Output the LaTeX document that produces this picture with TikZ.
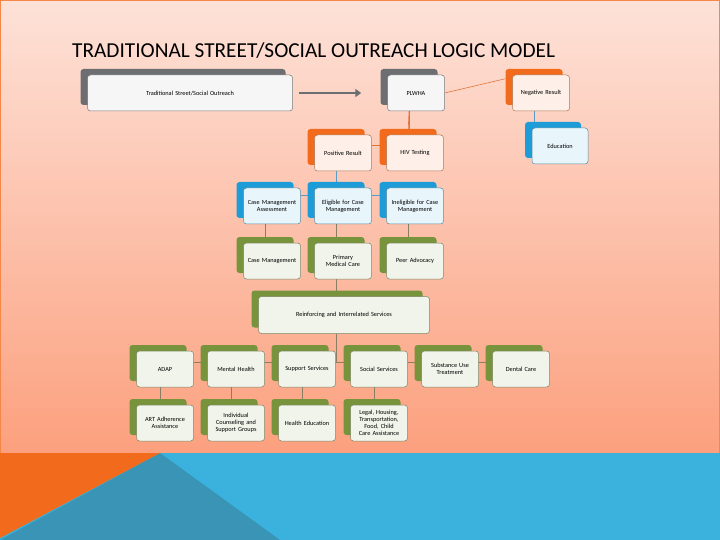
\documentclass[tikz,border=0pt]{standalone}
\usepackage{fontspec}
\setmainfont{Carlito}
\usetikzlibrary{shadows,arrows.meta}
\hyphenpenalty=10000
\exhyphenpenalty=10000
\pgfdeclarelayer{back}\pgfdeclarelayer{bg}\pgfsetlayers{back,bg,main}
\definecolor{bgtop}{HTML}{FDE2D8}
\definecolor{bgbot}{HTML}{FCA07E}
\definecolor{cor}{HTML}{F26A1B}
\definecolor{cbl}{HTML}{1E9CD7}
\definecolor{cgr}{HTML}{77933C}
\definecolor{cgy}{HTML}{6D6E71}
\definecolor{band}{HTML}{3BB2DE}
\definecolor{darktri}{HTML}{3A94B5}
\definecolor{lineor}{HTML}{E0733A}
\definecolor{linebl}{HTML}{5B9BC5}
\definecolor{linegr}{HTML}{8C7E62}
\tikzset{
 box/.style 2 args={draw=#1!40!gray, line width=0.5pt, rounded corners=3pt, fill=#2,
   minimum width=57pt, minimum height=36pt, align=center, text width=54pt,
   font=\fontsize{6.3}{7}\selectfont, inner sep=1pt,
   copy shadow={shadow xshift=-7pt, shadow yshift=6pt, fill=#1, draw=none}},
 obox/.style={box={cor}{white!90!cor}},
 bbox/.style={box={cbl}{white!90!cbl}},
 gbox/.style={box={cgr}{white!90!cgr}},
 ybox/.style={box={cgy}{white!94!cgy}},
 conn/.style={line width=0.6pt}
}
\begin{document}
\begin{tikzpicture}[x=1pt,y=-1pt]
\useasboundingbox (0,0) rectangle (720,540);
\begin{pgfonlayer}{back}
\shade[top color=bgtop, bottom color=bgbot] (0,0) rectangle (720,453);
\draw[cor!80, line width=1pt] (0.5,0.5) rectangle (719.5,453);
\fill[band] (0,453) rectangle (720,540);
\fill[darktri] (160,453) -- (280,540) -- (0,540) -- cycle;
\fill[cor] (0,453) -- (160,453) -- (0,538) -- cycle;
\end{pgfonlayer}
\node[anchor=west, font=\fontsize{21.3}{24}\selectfont, inner sep=0pt] (title) at (72,51) {TRADITIONAL STREET/SOCIAL OUTREACH LOGIC MODEL};

\node[ybox, minimum width=205pt, text width=195pt] (trad) at (190,93) {Traditional Street/Social Outreach};
\node[ybox] (plwha) at (416,93) {PLWHA};
\node[obox] (neg) at (541,93) {Negative Result};
\node[bbox, minimum width=56pt] (edu) at (560,146) {Education};
\node[obox] (pos) at (343,153) {Positive Result};
\node[obox] (hiv) at (415,153) {HIV Testing};

\node[bbox] (cma) at (272,206) {Case Management Assessment};
\node[bbox] (elig) at (343,206) {Eligible for Case Management};
\node[bbox] (inel) at (415,206) {Ineligible for Case Management};
\node[gbox] (cm) at (272,261) {Case Management};
\node[gbox] (pmc) at (343,261) {Primary Medical Care};
\node[gbox] (peer) at (415,261) {Peer Advocacy};
\node[gbox, minimum width=171pt, minimum height=37pt, text width=160pt] (rein) at (344,315) {Reinforcing and Interrelated Services};

\node[gbox] (adap) at (165,369) {ADAP};
\node[gbox] (mh) at (236,369) {Mental Health};
\node[gbox] (ss) at (307,369) {Support Services};
\node[gbox] (soc) at (379,369) {Social Services};
\node[gbox] (sub) at (450,369) {Substance Use Treatment};
\node[gbox] (dent) at (521,369) {Dental Care};
\node[gbox] (art) at (165,423) {ART Adherence Assistance};
\node[gbox] (ind) at (236,423) {Individual Counseling and Support Groups};
\node[gbox] (he) at (307,423) {Health Education};
\node[gbox] (legal) at (379,423) {Legal, Housing, Transportation, Food, Child Care Assistance};

\draw[cgy, line width=2.2pt, -{Triangle[length=6pt,width=8pt]}] (trad.east)+(6,0) coordinate (a1) (a1) -- ([xshift=-26pt]plwha.west);

\begin{pgfonlayer}{bg}
\draw[conn, lineor] (plwha.east) -- ([xshift=-7pt,yshift=-4pt]neg.north west);
\draw[conn, linebl] ([xshift=-7pt]neg.south) -- ([xshift=-7pt]neg.south |- edu.north);
\draw[conn, lineor] ([xshift=-7pt]plwha.south) |- ([xshift=-7pt,yshift=-11pt]pos.north) -- ([xshift=-7pt]pos.north);
\draw[conn, lineor] ([xshift=-7pt]plwha.south) -- ([xshift=-7pt]hiv.north);
\draw[conn, linebl] ([xshift=-7pt]pos.south) -- ([xshift=-7pt,yshift=-8pt]elig.north);
\draw[conn, linebl] ([xshift=-7pt,yshift=-8pt]cma.north) -- ([xshift=-7pt,yshift=-8pt]inel.north);
\foreach \u/\l in {cma/cm,elig/pmc,inel/peer}{
  \draw[conn, linebl] ([xshift=-7pt,yshift=-8pt]\u.north) -- ([xshift=-7pt]\u.north);
  \draw[conn, linegr] ([xshift=-7pt]\u.south) -- ([xshift=-7pt]\l.north);}
\draw[conn, linegr] ([xshift=-7pt]pmc.south) -- ([xshift=-8pt]rein.north);
\draw[conn, linegr] ([xshift=-8pt]rein.south) -- ([xshift=-8pt,yshift=-12pt]rein.south |- adap.north);
\draw[conn, linegr] ([xshift=-5pt,yshift=-12pt]adap.north) -- ([xshift=-6pt,yshift=-12pt]dent.north);
\foreach \u/\l in {adap/art,mh/ind,ss/he,soc/legal}{
  \draw[conn, linegr] ([xshift=-5pt]\u.south) -- ([xshift=-5pt]\l.north);}
\foreach \u in {adap,mh,ss,soc,sub,dent}{
  \draw[conn, linegr] ([xshift=-5pt,yshift=-12pt]\u.north) -- ([xshift=-5pt]\u.north);}
\end{pgfonlayer}
\end{tikzpicture}
\end{document}
